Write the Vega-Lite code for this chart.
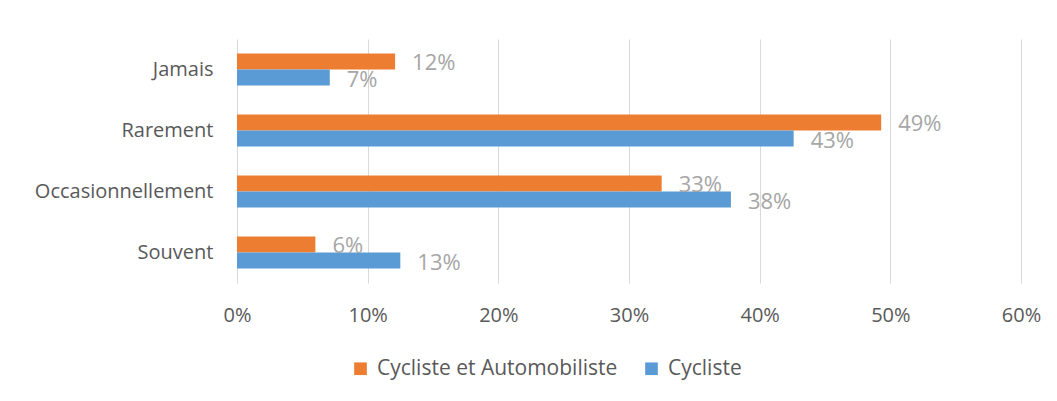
{
  "$schema": "https://vega.github.io/schema/vega-lite/v6.json",
  "width": 784,
  "height": 244,
  "autosize": {"type": "none"},
  "padding": {"left": 237, "top": 39, "right": 36, "bottom": 118},
  "background": "white",
  "config": {"view": {"stroke": null}, "font": "Open Sans"},
  "data": {
    "values": [
      {"cat": "Jamais", "series": "Cycliste et Automobiliste", "value": 0.121, "label": "12%"},
      {"cat": "Jamais", "series": "Cycliste", "value": 0.071, "label": "7%"},
      {"cat": "Rarement", "series": "Cycliste et Automobiliste", "value": 0.493, "label": "49%"},
      {"cat": "Rarement", "series": "Cycliste", "value": 0.426, "label": "43%"},
      {"cat": "Occasionnellement", "series": "Cycliste et Automobiliste", "value": 0.325, "label": "33%"},
      {"cat": "Occasionnellement", "series": "Cycliste", "value": 0.378, "label": "38%"},
      {"cat": "Souvent", "series": "Cycliste et Automobiliste", "value": 0.060, "label": "6%"},
      {"cat": "Souvent", "series": "Cycliste", "value": 0.125, "label": "13%"}
    ]
  },
  "encoding": {
    "y": {
      "field": "cat", "type": "nominal",
      "sort": ["Jamais", "Rarement", "Occasionnellement", "Souvent"],
      "scale": {"paddingInner": 0.475, "paddingOuter": 0.2375},
      "axis": {"title": null, "domain": false, "ticks": false, "grid": false, "labelFontSize": 20, "labelColor": "#595959", "labelPadding": 24}
    },
    "x": {
      "field": "value", "type": "quantitative",
      "scale": {"domain": [0, 0.6], "nice": false},
      "axis": {"title": null, "format": ".0%", "values": [0, 0.1, 0.2, 0.3, 0.4, 0.5, 0.6], "domain": false, "ticks": false, "labelFlush": false, "gridColor": "#d9d9d9", "gridWidth": 1, "labelFontSize": 20, "labelColor": "#595959", "labelPadding": 22}
    },
    "yOffset": {"field": "series", "type": "nominal", "sort": ["Cycliste et Automobiliste", "Cycliste"]}
  },
  "layer": [
    {
      "mark": {"type": "bar"},
      "encoding": {
        "color": {
          "field": "series", "type": "nominal",
          "scale": {"domain": ["Cycliste et Automobiliste", "Cycliste"], "range": ["#ED7D31", "#5B9BD5"]},
          "legend": {
            "title": null, "orient": "none", "direction": "horizontal",
            "legendX": 113, "legendY": 319,
            "symbolType": "square", "symbolSize": 160, "symbolStrokeWidth": 0,
            "labelFontSize": 21, "labelColor": "#595959", "labelLimit": 400,
            "labelOffset": 6, "columnPadding": 23
          }
        }
      }
    },
    {
      "mark": {"type": "text", "align": "left", "baseline": "middle", "dx": 17, "dy": 2, "fontSize": 22, "color": "#A6A6A6"},
      "encoding": {"text": {"field": "label", "type": "nominal"}}
    }
  ]
}
